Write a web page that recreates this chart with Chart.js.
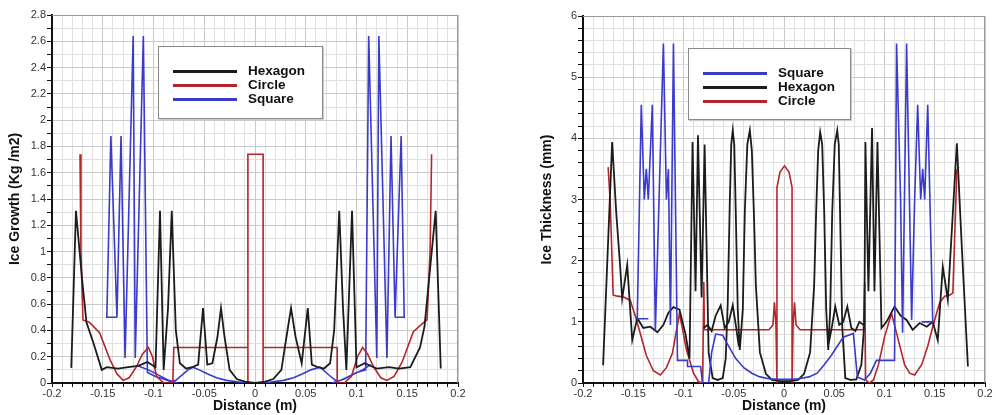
<!DOCTYPE html>
<html lang="en">
  <head>
    <meta charset="utf-8">
    <script src="https://cdn.jsdelivr.net/npm/chart.js"></script>
    <title>Ice growth and thickness</title>
    <style>
      body { margin: 0; background: #fff; width: 996px; height: 415px; position: relative; overflow: hidden; font-family: "Liberation Sans", Arial, sans-serif; }
      canvas { position: absolute; top: 0; }
      #growth { left: 0; }
      #thick { left: 500px; }
      .legend { position: absolute; background: #fff; border: 1px solid #8a8a8a; box-shadow: 1px 1px 1px #ccc; }
      .legend .row { position: absolute; left: 0; height: 14px; }
      .legend .line { position: absolute; height: 2.5px; top: 6px; }
      .legend .txt { position: absolute; top: -1px; font-weight: bold; font-size: 13.5px; color: #111; white-space: nowrap; }
    </style>
  </head>
  <body>
    <canvas id="growth" width="480" height="415"></canvas>
    <canvas id="thick" width="496" height="415"></canvas>
    <div class="legend" id="legGrowth" style="left:158px;top:46px;width:163px;height:71px"></div>
    <div class="legend" id="legThick" style="left:688px;top:48px;width:161px;height:70px"></div>
  </body>
  <script>
    // values, [distance (m), value]; null = gap in the line
    const growthHexagon = [[-0.181,0.115],[-0.1764,1.31],[-0.170,0.76],[-0.166,0.46],[-0.159,0.30],[-0.151,0.10],[-0.146,0.12],[-0.135,0.11],[-0.125,0.12],[-0.115,0.13],[-0.106,0.16],[-0.098,0.12],[-0.0936,1.31],[-0.090,0.10],[-0.0857,0.57],[-0.082,1.31],[-0.078,0.40],[-0.074,0.15],[-0.068,0.11],[-0.062,0.12],[-0.056,0.14],[-0.0512,0.57],[-0.047,0.14],[-0.042,0.15],[-0.037,0.35],[-0.0335,0.57],[-0.030,0.35],[-0.025,0.10],[-0.018,0.03],[-0.010,0.01],[0.0,0.0],[0.010,0.01],[0.018,0.03],[0.026,0.10],[0.031,0.35],[0.0355,0.57],[0.040,0.35],[0.046,0.15],[0.052,0.57],[0.056,0.14],[0.062,0.12],[0.068,0.11],[0.074,0.15],[0.078,0.40],[0.083,1.31],[0.0867,0.57],[0.090,0.10],[0.0956,1.31],[0.100,0.12],[0.108,0.15],[0.120,0.11],[0.132,0.12],[0.142,0.11],[0.153,0.12],[0.1626,0.27],[0.167,0.43],[0.178,1.31],[0.183,0.11]];
    const growthCircle = [[-0.1724,1.74],[-0.1715,1.0],[-0.1695,0.48],[-0.163,0.46],[-0.153,0.38],[-0.143,0.18],[-0.136,0.07],[-0.130,0.02],[-0.124,0.04],[-0.117,0.12],[-0.111,0.22],[-0.105,0.27],[-0.101,0.20],[-0.097,0.05],[-0.090,0.0],[-0.081,0.0],[-0.080,0.27],[-0.007,0.27],[-0.007,0.0],[-0.007,1.74],[0.008,1.74],[0.008,0.0],[0.008,0.27],[0.081,0.27],[0.081,0.0],[0.088,0.0],[0.095,0.05],[0.101,0.20],[0.106,0.27],[0.111,0.22],[0.117,0.12],[0.124,0.04],[0.130,0.02],[0.137,0.05],[0.145,0.16],[0.156,0.39],[0.166,0.46],[0.1695,0.48],[0.1725,1.0],[0.174,1.74]];
    const growthSquare = [[-0.136,0.50],[-0.146,0.50],[-0.142,1.88],[-0.136,0.50],[-0.132,1.88],[-0.128,0.19],[-0.120,2.64],[-0.118,0.19],[-0.110,2.64],[-0.106,0.08],[-0.098,0.05],[-0.090,0.03],[-0.083,0.01],[-0.078,0.02],[-0.072,0.06],[-0.066,0.10],[-0.061,0.12],[-0.055,0.10],[-0.047,0.07],[-0.038,0.04],[-0.028,0.02],[-0.018,0.01],[-0.008,0.0],[0.008,0.0],[0.018,0.01],[0.028,0.02],[0.038,0.04],[0.047,0.07],[0.055,0.10],[0.064,0.12],[0.070,0.08],[0.076,0.04],[0.081,0.01],[0.090,0.04],[0.100,0.08],[0.109,0.10],[0.112,2.64],[0.120,0.19],[0.122,2.64],[0.130,0.19],[0.134,1.88],[0.138,0.50],[0.144,1.88],[0.147,0.50],[0.138,0.50],
      null,[-0.115,0.13],[-0.105,0.10],[-0.095,0.06],[-0.085,0.02],[-0.076,0.0],
      null,[0.076,0.0],[0.088,0.03],[0.098,0.07],[0.106,0.10],[0.114,0.14]];

    const thickSquare = [[-0.135,1.05],[-0.146,1.05],[-0.142,4.55],[-0.139,3.0],[-0.137,3.5],[-0.135,3.0],[-0.131,4.55],[-0.128,0.85],[-0.120,5.55],[-0.117,3.0],[-0.115,3.5],[-0.113,0.95],[-0.110,5.55],[-0.106,0.37],[-0.096,0.37],[-0.096,0.27],[-0.083,0.27],[-0.081,0.0],[-0.075,0.0],[-0.072,0.5],[-0.068,0.8],[-0.061,0.78],[-0.055,0.6],[-0.048,0.4],[-0.040,0.25],[-0.032,0.16],[-0.024,0.1],[-0.015,0.07],[-0.005,0.06],[0.005,0.06],[0.015,0.07],[0.025,0.1],[0.033,0.16],[0.040,0.3],[0.047,0.45],[0.053,0.6],[0.059,0.75],[0.069,0.81],[0.073,0.1],[0.080,0.05],[0.086,0.16],[0.092,0.37],[0.110,0.37],[0.112,5.55],[0.116,3.0],[0.118,0.82],[0.122,5.55],[0.127,1.03],[0.130,3.0],[0.133,4.55],[0.136,3.0],[0.138,3.5],[0.140,3.0],[0.143,4.55],[0.148,1.0],[0.137,1.0]];
    const thickHexagon = [[-0.180,0.29],[-0.171,3.94],[-0.167,2.8],[-0.163,1.9],[-0.161,1.38],[-0.156,1.93],[-0.151,0.7],[-0.146,1.06],[-0.140,0.9],[-0.133,0.92],[-0.126,0.83],[-0.120,0.95],[-0.115,1.15],[-0.110,1.24],[-0.104,1.2],[-0.098,0.8],[-0.094,0.4],[-0.091,3.94],[-0.088,1.5],[-0.0856,4.05],[-0.082,1.4],[-0.079,3.9],[-0.075,0.5],[-0.071,0.08],[-0.066,0.05],[-0.061,0.08],[-0.058,0.4],[-0.056,1.3],[-0.054,2.9],[-0.0525,3.9],[-0.051,4.13],[-0.0495,3.9],[-0.048,2.8],[-0.046,1.2],[-0.044,0.54],[-0.041,1.2],[-0.039,2.8],[-0.0365,3.9],[-0.034,4.13],[-0.032,3.8],[-0.030,2.8],[-0.028,1.6],[-0.024,0.5],[-0.018,0.15],[-0.012,0.05],[-0.004,0.03],[0.006,0.03],[0.014,0.05],[0.020,0.15],[0.026,0.5],[0.030,1.6],[0.032,2.8],[0.034,3.8],[0.036,4.1],[0.038,3.9],[0.040,2.8],[0.042,1.2],[0.044,0.54],[0.046,1.2],[0.048,2.8],[0.0505,3.9],[0.053,4.13],[0.0545,3.9],[0.056,2.6],[0.058,0.9],[0.061,0.08],[0.066,0.05],[0.072,0.06],[0.077,0.3],[0.080,1.0],[0.081,3.94],[0.084,1.5],[0.0876,4.17],[0.090,1.5],[0.093,3.94],[0.097,0.9],[0.102,1.0],[0.110,1.25],[0.116,1.1],[0.122,1.03],[0.128,0.87],[0.135,0.98],[0.142,0.92],[0.148,1.0],[0.153,0.7],[0.158,1.9],[0.163,1.36],[0.172,3.92],[0.177,2.2],[0.183,0.27],
      null,[-0.080,0.9],[-0.076,0.95],[-0.072,0.85],[-0.068,1.1],[-0.063,1.27],[-0.059,0.9],[-0.055,1.0],[-0.051,1.27],[-0.048,0.95],[-0.045,0.6],
      null,[0.044,0.6],[0.048,0.95],[0.051,1.25],[0.055,0.95],[0.059,1.0],[0.063,1.25],[0.067,0.9],[0.071,0.85],[0.075,1.0],[0.079,0.95]];
    const thickCircle = [[-0.175,3.53],[-0.173,3.0],[-0.170,1.44],[-0.166,1.42],[-0.160,1.41],[-0.153,1.35],[-0.148,1.1],[-0.143,0.81],[-0.137,0.45],[-0.130,0.2],[-0.123,0.13],[-0.117,0.25],[-0.111,0.49],[-0.104,1.14],[-0.097,0.54],[-0.090,0.16],[-0.085,0.02],[-0.081,0.0],[-0.0798,1.65],[-0.0792,0.87],[-0.015,0.87],[-0.011,0.95],[-0.0095,1.32],[-0.008,0.95],[-0.007,0.0],[-0.007,3.2],[-0.004,3.45],[0.0005,3.55],[0.005,3.45],[0.008,3.2],[0.008,0.0],[0.009,0.95],[0.0105,1.32],[0.012,0.95],[0.016,0.87],[0.079,0.87],[0.0803,1.65],[0.0812,0.05],[0.085,0.0],[0.089,0.05],[0.094,0.3],[0.100,0.75],[0.107,1.14],[0.113,0.75],[0.120,0.3],[0.125,0.16],[0.130,0.13],[0.137,0.3],[0.143,0.6],[0.148,0.92],[0.155,1.32],[0.160,1.42],[0.165,1.44],[0.168,1.47],[0.172,3.48],[0.174,3.53]];

    const BLACK = '#1c1c1c', RED = '#b3262a', BLUE = '#3a3acb';

    Chart.defaults.font.family = '"Liberation Sans", Arial, sans-serif';

    function toPoints(pairs) {
      let lastX = 0;
      return pairs.map(p => {
        if (p === null) return {x: lastX, y: null}; // break the line
        lastX = p[0];
        return {x: p[0], y: p[1]};
      });
    }

    function series(label, pairs, color, width) {
      return {label: label, data: toPoints(pairs), borderColor: color, backgroundColor: color,
              borderWidth: width, pointRadius: 0, showLine: true, tension: 0, spanGaps: false};
    }

    // grey frame on the top and right of the plot
    const frame = {
      id: 'frame',
      beforeDatasetsDraw(chart) {
        const a = chart.chartArea, c = chart.ctx;
        c.save();
        c.strokeStyle = '#9a9a9a';
        c.lineWidth = 1;
        c.beginPath();
        c.moveTo(a.left, a.top + 0.5); c.lineTo(a.right - 0.5, a.top + 0.5); c.lineTo(a.right - 0.5, a.bottom);
        c.stroke();
        c.restore();
      }
    };

    function makeChart(id, datasets, opts) {
      const labelled = opts.yLabelled;
      return new Chart(document.getElementById(id), {
        type: 'scatter',
        data: {datasets: datasets},
        plugins: [frame],
        options: {
          responsive: false,
          animation: false,
          devicePixelRatio: 1,
          layout: {padding: {top: opts.top, right: opts.right, left: 0, bottom: 0}},
          plugins: {legend: {display: false}, tooltip: {enabled: false}},
          scales: {
            x: {
              type: 'linear', min: -0.2, max: 0.2,
              afterFit: s => { s.height = 32; },
              border: {color: '#111', width: 2},
              grid: {
                color: c => (Math.round(c.tick.value * 100) % 5 === 0 ? '#c9c9c9' : '#e0e0e0'),
                tickColor: '#111', tickLength: 4
              },
              ticks: {
                stepSize: 0.01, autoSkip: false, maxRotation: 0, padding: 0,
                color: '#333', font: {size: 11},
                callback: v => (Math.round(v * 100) % 5 === 0 ? String(Math.round(v * 100) / 100) : '')
              },
              title: {display: true, text: 'Distance (m)', color: '#111', font: {size: 14, weight: 'bold'}, padding: {top: 0, bottom: 0}}
            },
            y: {
              min: 0, max: opts.yMax,
              afterFit: s => { s.width = opts.yWidth; },
              border: {color: '#111', width: 2},
              grid: {
                color: c => (labelled(c.tick.value) ? '#c9c9c9' : '#e0e0e0'),
                tickColor: '#111', tickLength: 5
              },
              ticks: {
                stepSize: opts.yStep, autoSkip: false, padding: 1,
                color: '#333', font: {size: 11},
                callback: v => (labelled(v) ? String(Math.round(v * 10) / 10) : '')
              },
              title: {display: true, text: opts.yTitle, color: '#111', font: {size: 14, weight: 'bold'}, padding: {top: opts.titlePad, bottom: 0}}
            }
          }
        }
      });
    }

    function drawLegend(divId, chart) {
      const box = document.getElementById(divId);
      chart.data.datasets.forEach((ds, i) => {
        const row = document.createElement('div');
        row.className = 'row';
        row.style.top = (17 + i * 14) + 'px';
        row.style.width = '100%';
        const line = document.createElement('span');
        line.className = 'line';
        line.style.left = '14px';
        line.style.width = '64px';
        line.style.background = ds.borderColor;
        const txt = document.createElement('span');
        txt.className = 'txt';
        txt.style.left = '89px';
        txt.textContent = ds.label;
        row.appendChild(line);
        row.appendChild(txt);
        box.appendChild(row);
      });
    }

    const growthChart = makeChart('growth', [
      series('Hexagon', growthHexagon, BLACK, 1.8),
      series('Circle', growthCircle, RED, 1.6),
      series('Square', growthSquare, BLUE, 1.6)
    ], {top: 15, right: 22, yMax: 2.8, yStep: 0.1, yWidth: 52, titlePad: 7,
        yTitle: 'Ice Growth (Kg /m2)', yLabelled: v => Math.round(v * 10) % 2 === 0});

    const thickChart = makeChart('thick', [
      series('Square', thickSquare, BLUE, 1.6),
      series('Hexagon', thickHexagon, BLACK, 1.8),
      series('Circle', thickCircle, RED, 1.6)
    ], {top: 16, right: 11, yMax: 6, yStep: 0.2, yWidth: 83, titlePad: 39,
        yTitle: 'Ice Thickness (mm)', yLabelled: v => Math.abs(v - Math.round(v)) < 1e-6});

    drawLegend('legGrowth', growthChart);
    drawLegend('legThick', thickChart);
  </script>
</html>
